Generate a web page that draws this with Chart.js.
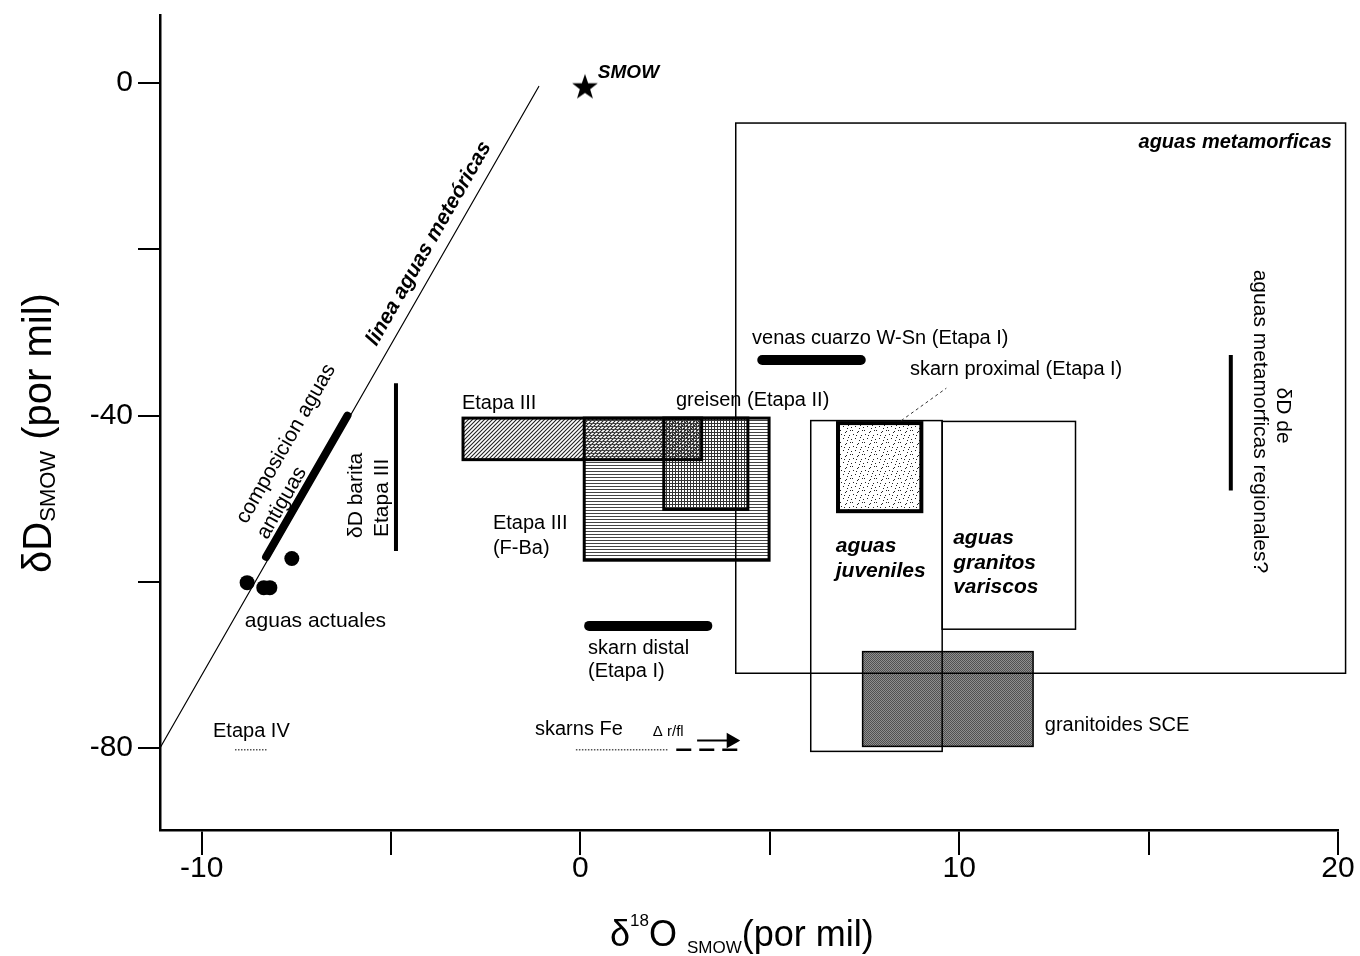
<!DOCTYPE html>
<html>
<head>
<meta charset="utf-8">
<script src="https://cdn.jsdelivr.net/npm/chart.js@4.4.0/dist/chart.umd.min.js"></script>
<style>
  html, body { margin: 0; padding: 0; background: #fff; }
  #wrap { width: 1360px; height: 956px; position: relative; }
</style>
</head>
<body>
<div id="wrap"><canvas id="grafico"></canvas></div>
<script>
// ejes
const xTicks = [-10, 0, 10, 20];
const yTicks = [0, -40, -80];

// linea aguas meteoricas
const meteoricO = [-11.1, -1.1];
const meteoricD = [-80, -0.4];

// composicion aguas antiguas (tramo grueso sobre la linea)
const antiguasO = [-8.3, -6.15];
const antiguasD = [-57, -40];

// aguas actuales
const actualesO = [-8.8, -8.36, -8.2, -7.62];
const actualesD = [-60.1, -60.7, -60.7, -57.2];

// SMOW
const smowO = [0.12];
const smowD = [-0.4];

// barras de rango
const baritaO = [-4.87, -4.87];
const baritaD = [-36.1, -56.3];
const regionalO = [17.17, 17.17];
const regionalD = [-32.7, -49.0];
const venasO = [4.8, 7.4];
const venasD = [-33.3, -33.3];
const distalO = [0.23, 3.35];
const distalD = [-65.3, -65.3];

// Etapa IV y skarns Fe
const etapa4O = [-9.12, -8.25];
const etapa4D = [-80.2, -80.2];
const skarnFeO = [-0.12, 2.31];
const skarnFeD = [-80.2, -80.2];
const rflO = [2.53, 4.17];
const rflD = [-80.2, -80.2];
const flechaO = [3.08, 3.98];
const flechaD = [-79.1, -79.1];
const guiaO = [8.47, 9.66];
const guiaD = [-40.6, -36.7];

// campos (rectangulos)
const boxNames = ['Etapa III', 'Etapa III (F-Ba)', 'greisen (Etapa II)', 'skarn proximal (Etapa I)',
                  'aguas juveniles', 'aguas granitos variscos', 'aguas metamorficas', 'granitoides SCE'];
const boxO18 = [[-3.1, 3.2], [0.1, 4.98], [2.2, 4.42], [6.8, 9.0], [6.08, 9.55], [9.55, 13.07], [4.1, 20.2], [7.45, 11.95]];
const boxD = [[-40.3, -45.3], [-40.3, -57.4], [-40.3, -51.3], [-40.9, -51.5], [-40.6, -80.4], [-40.7, -65.7], [-4.8, -71.0], [-68.4, -79.8]];

const fam = '"Liberation Sans", Arial, sans-serif';

function pts(xs, ys) {
    return xs.map((v, i) => ({ x: v, y: ys[i] }));
}

function mkPattern(ctx, size, draw) {
    const c = document.createElement('canvas');
    c.width = size; c.height = size;
    const g = c.getContext('2d');
    draw(g, size);
    return ctx.createPattern(c, 'repeat');
}

// estrella rellena para SMOW
const star = document.createElement('canvas');
star.width = 30; star.height = 30;
(function () {
    const g = star.getContext('2d');
    g.beginPath();
    for (let i = 0; i < 10; i++) {
        const r = i % 2 === 0 ? 13.5 : 5.4;
        const a = -Math.PI / 2 + i * Math.PI / 5;
        g.lineTo(15 + r * Math.cos(a), 16 + r * Math.sin(a));
    }
    g.closePath();
    g.fillStyle = '#000';
    g.fill();
})();

// estilo de cada campo
const boxStyles = [
    { pat: 'diag', lw: 3 },
    { pat: 'horiz', lw: 3 },
    { pat: 'grid', lw: 3 },
    { pat: 'stip', lw: 4 },
    { lw: 1.5 },
    { lw: 1.5 },
    { lw: 1.5 },
    { bg: '#8e8e8e', pat: 'dots', lw: 1.5 }
];

const boxPlugin = {
    id: 'campos',
    beforeDatasetsDraw(chart) {
        const { ctx, scales: { x, y } } = chart;
        const pats = {
            diag: mkPattern(ctx, 4, (g) => {
                g.strokeStyle = '#222'; g.lineWidth = 1.1;
                g.beginPath(); g.moveTo(0, 4); g.lineTo(4, 0); g.moveTo(-1, 1); g.lineTo(1, -1); g.moveTo(3, 5); g.lineTo(5, 3); g.stroke();
            }),
            horiz: mkPattern(ctx, 3, (g) => { g.fillStyle = '#444'; g.fillRect(0, 0, 3, 1); }),
            grid: mkPattern(ctx, 3, (g) => { g.fillStyle = '#333'; g.fillRect(0, 0, 3, 1); g.fillRect(0, 0, 1, 3); }),
            stip: mkPattern(ctx, 12, (g) => {
                g.fillStyle = '#222';
                [[1, 2], [5, 0], [9, 3], [3, 6], [7, 8], [11, 7], [0, 10], [6, 11], [10, 10], [4, 3], [8, 5]].forEach(p => g.fillRect(p[0], p[1], 1, 1));
            }),
            dots: mkPattern(ctx, 2, (g) => { g.fillStyle = '#505050'; g.fillRect(0, 0, 1, 1); g.fillRect(1, 1, 1, 1); })
        };
        const rects = boxO18.map((o, i) => {
            const l = x.getPixelForValue(o[0]), r = x.getPixelForValue(o[1]);
            const t = y.getPixelForValue(boxD[i][0]), b = y.getPixelForValue(boxD[i][1]);
            return [l, t, r - l, b - t];
        });
        ctx.save();
        rects.forEach((rc, i) => {
            const st = boxStyles[i];
            if (st.bg) { ctx.fillStyle = st.bg; ctx.fillRect(...rc); }
            if (st.pat) { ctx.fillStyle = pats[st.pat]; ctx.fillRect(...rc); }
        });
        ctx.strokeStyle = '#000';
        rects.forEach((rc, i) => {
            ctx.lineWidth = boxStyles[i].lw;
            ctx.strokeRect(...rc);
        });
        ctx.restore();
    }
};

// textos: [texto, x, y, estilo, tamano, alineacion, rotacion]
const notes = [
    ['SMOW', 0.46, 1.3, 'italic bold', 19, 'left', 0],
    ['linea aguas meteóricas', -4.0, -19.3, 'italic bold', 21, 'center', 'line'],
    ['composicion aguas', -7.77, -43.4, '', 21, 'center', 'line'],
    ['antiguas', -7.88, -50.5, '', 21, 'center', 'line'],
    ['δD barita', -5.92, -49.6, '', 21, 'center', -90],
    ['Etapa III', -5.24, -49.9, '', 21, 'center', -90],
    ['aguas actuales', -8.86, -64.7, '', 21, 'left', 0],
    ['Etapa IV', -9.7, -78, '', 20, 'left', 0],
    ['Etapa III', -3.13, -38.6, '', 20, 'left', 0],
    ['greisen (Etapa II)', 2.52, -38.2, '', 20, 'left', 0],
    ['Etapa III', -2.31, -53.0, '', 20, 'left', 0],
    ['(F-Ba)', -2.31, -56.0, '', 20, 'left', 0],
    ['venas cuarzo W-Sn (Etapa I)', 4.53, -30.7, '', 20, 'left', 0],
    ['skarn proximal (Etapa I)', 8.7, -34.5, '', 20, 'left', 0],
    ['aguas metamorficas', 19.84, -7.1, 'italic bold', 20, 'right', 0],
    ['skarn distal', 0.2, -68.0, '', 20, 'left', 0],
    ['(Etapa I)', 0.2, -70.8, '', 20, 'left', 0],
    ['skarns Fe', -1.2, -77.8, '', 20, 'left', 0],
    ['Δ r/fl', 1.91, -78.1, '', 15, 'left', 0],
    ['aguas', 6.74, -55.7, 'italic bold', 21, 'left', 0],
    ['juveniles', 6.74, -58.7, 'italic bold', 21, 'left', 0],
    ['aguas', 9.84, -54.7, 'italic bold', 21, 'left', 0],
    ['granitos', 9.84, -57.7, 'italic bold', 21, 'left', 0],
    ['variscos', 9.84, -60.7, 'italic bold', 21, 'left', 0],
    ['granitoides SCE', 12.26, -77.3, '', 20, 'left', 0],
    ['δD de', 18.55, -40.0, '', 21, 'center', 90],
    ['aguas metamorficas regionales?', 17.94, -40.7, '', 21, 'center', 90]
];

const textPlugin = {
    id: 'textos',
    afterDatasetsDraw(chart) {
        const { ctx, scales: { x, y } } = chart;
        const lineAng = Math.atan2(
            y.getPixelForValue(meteoricD[1]) - y.getPixelForValue(meteoricD[0]),
            x.getPixelForValue(meteoricO[1]) - x.getPixelForValue(meteoricO[0]));
        ctx.save();
        ctx.fillStyle = '#000';
        ctx.textBaseline = 'middle';
        notes.forEach(n => {
            const [t, vx, vy, st, sz, al, rot] = n;
            ctx.save();
            ctx.translate(x.getPixelForValue(vx), y.getPixelForValue(vy));
            if (rot === 'line') ctx.rotate(lineAng);
            else if (rot) ctx.rotate(rot * Math.PI / 180);
            ctx.font = (st ? st + ' ' : '') + sz + 'px ' + fam;
            ctx.textAlign = al;
            ctx.fillText(t, 0, 0);
            ctx.restore();
        });
        ctx.restore();
    },
    afterDraw(chart) {
        const { ctx } = chart;
        ctx.save();
        ctx.fillStyle = '#000';
        ctx.textBaseline = 'alphabetic';
        ctx.textAlign = 'left';
        // titulo eje y
        const yParts = [['δD', 40, 0], ['SMOW', 22, 4], [' (por mil)', 40, 0]];
        ctx.translate(51, 433);
        ctx.rotate(-Math.PI / 2);
        let w = 0;
        yParts.forEach(p => { ctx.font = p[1] + 'px ' + fam; w += ctx.measureText(p[0]).width; });
        let cx = -w / 2;
        yParts.forEach(p => { ctx.font = p[1] + 'px ' + fam; ctx.fillText(p[0], cx, p[2]); cx += ctx.measureText(p[0]).width; });
        ctx.restore();
        // titulo eje x
        ctx.save();
        ctx.fillStyle = '#000';
        ctx.textBaseline = 'alphabetic';
        const xParts = [['δ', 36, 0], ['18', 17, -20], ['O', 36, 0], [' ', 36, 0], ['SMOW', 17, 7], ['(por mil)', 36, 0]];
        let px = 610;
        xParts.forEach(p => { ctx.font = p[1] + 'px ' + fam; ctx.fillText(p[0], px, 946 + p[2]); px += ctx.measureText(p[0]).width; });
        ctx.restore();
    }
};

const thick = { borderColor: '#000', pointRadius: 0, showLine: true, borderCapStyle: 'round', clip: false };

new Chart(document.getElementById('grafico'), {
    type: 'scatter',
    data: {
        datasets: [
            { ...thick, data: pts(meteoricO, meteoricD), borderWidth: 1.2 },
            { ...thick, data: pts(antiguasO, antiguasD), borderWidth: 8 },
            { data: pts(actualesO, actualesD), pointRadius: 7.5, backgroundColor: '#000', borderWidth: 0, clip: false },
            { ...thick, data: pts(baritaO, baritaD), borderWidth: 4, borderCapStyle: 'butt' },
            { ...thick, data: pts(regionalO, regionalD), borderWidth: 4, borderCapStyle: 'butt' },
            { ...thick, data: pts(venasO, venasD), borderWidth: 10 },
            { ...thick, data: pts(distalO, distalD), borderWidth: 10 },
            { ...thick, data: pts(etapa4O, etapa4D), borderWidth: 1.5, borderDash: [1.5, 1.5], borderColor: '#555', borderCapStyle: 'butt' },
            { ...thick, data: pts(skarnFeO, skarnFeD), borderWidth: 1.5, borderDash: [1.5, 1.5], borderColor: '#555', borderCapStyle: 'butt' },
            { ...thick, data: pts(rflO, rflD), borderWidth: 2.5, borderDash: [15, 8], borderCapStyle: 'butt' },
            { ...thick, data: pts(flechaO, flechaD), borderWidth: 2, borderCapStyle: 'butt',
              pointRadius: [0, 7], pointStyle: 'triangle', pointRotation: 90, backgroundColor: '#000' },
            { ...thick, data: pts(guiaO, guiaD), borderWidth: 1, borderDash: [3, 3], borderColor: '#333', borderCapStyle: 'butt' },
            { data: pts(smowO, smowD), pointStyle: star, clip: false }
        ]
    },
    options: {
        responsive: true,
        maintainAspectRatio: false,
        animation: false,
        events: [],
        layout: { padding: { top: 15, right: 22, left: 0, bottom: 0 } },
        plugins: { legend: { display: false }, tooltip: { enabled: false } },
        scales: {
            x: {
                type: 'linear',
                min: -11.1,
                max: 20,
                afterFit: s => { s.height = 126; },
                border: { display: true, color: '#000', width: 2.5 },
                grid: { display: true, drawOnChartArea: false, drawTicks: true, tickLength: 25, color: '#000', lineWidth: 2 },
                ticks: {
                    stepSize: 5, includeBounds: false, autoSkip: false, maxRotation: 0, padding: -4,
                    color: '#000', font: { family: fam, size: 30 },
                    callback: v => xTicks.includes(v) ? String(v) : ''
                }
            },
            y: {
                type: 'linear',
                min: -89.86,
                max: 8.2,
                afterFit: s => { s.width = 160; s.paddingTop = 0; s.paddingBottom = 0; },
                border: { display: true, color: '#000', width: 2.5 },
                grid: { display: true, drawOnChartArea: false, drawTicks: true, tickLength: 22, color: '#000', lineWidth: 2 },
                ticks: {
                    stepSize: 20, includeBounds: false, autoSkip: false, padding: 5,
                    color: '#000', font: { family: fam, size: 30, lineHeight: 0.5 },
                    callback: v => yTicks.includes(v) ? String(v) : ''
                }
            }
        }
    },
    plugins: [boxPlugin, textPlugin]
});
</script>
</body>
</html>
